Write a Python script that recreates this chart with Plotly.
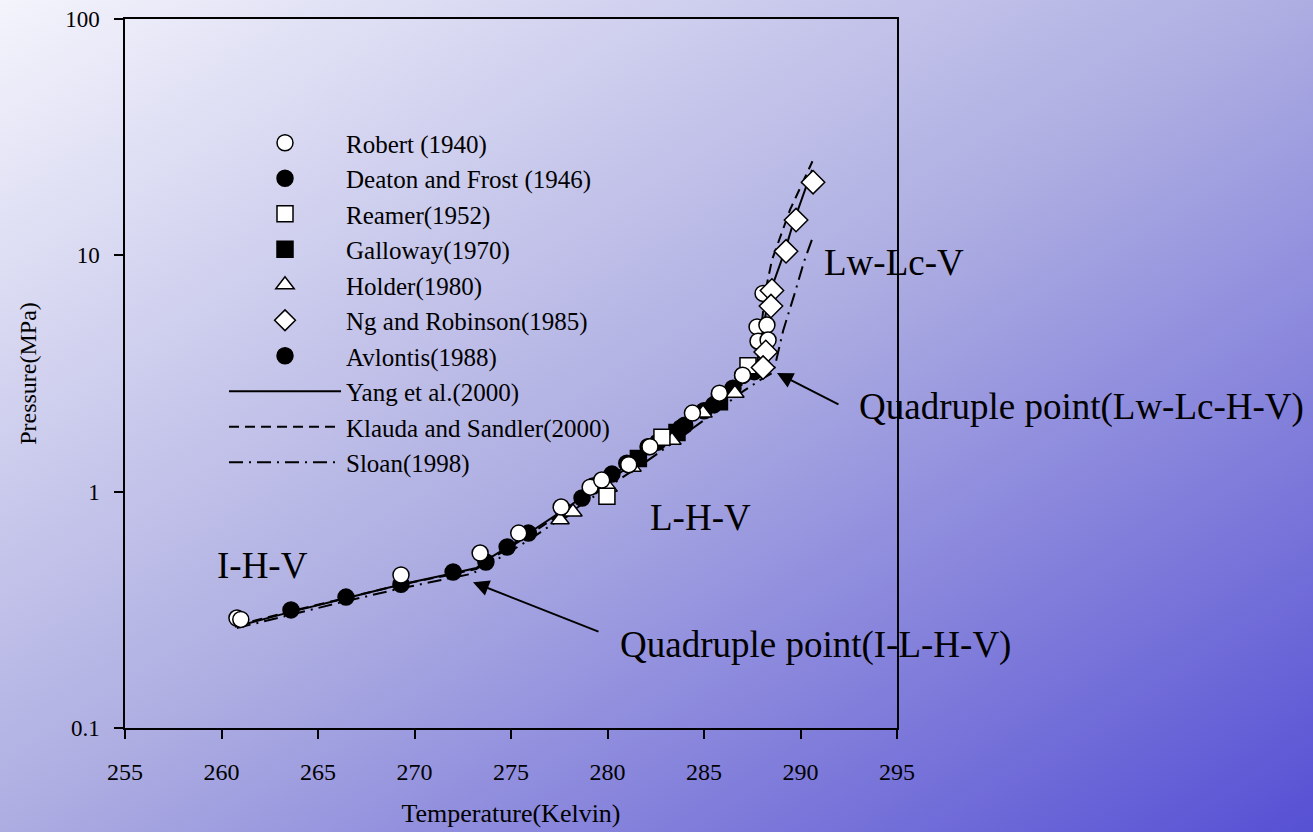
import base64
import plotly.graph_objects as go

# ---------------- data ----------------
robert_T = [260.8, 261.0, 269.3, 273.4, 275.4, 277.6, 279.1, 279.7, 281.1, 282.2, 284.4, 285.8, 287.0,
            288.06, 287.75, 288.26, 287.8, 288.32]
robert_P = [0.292, 0.288, 0.444, 0.550, 0.668, 0.861, 1.045, 1.12, 1.30, 1.55, 2.15, 2.61, 3.11,
            6.9, 4.98, 5.07, 4.33, 4.38]

deaton_T = [263.6, 266.45, 269.3, 272.0, 273.7, 274.8, 275.9, 277.7, 279.25, 281.0, 282.1, 284.0, 285.5, 287.0]
deaton_P = [0.316, 0.358, 0.406, 0.457, 0.504, 0.583, 0.668, 0.836, 1.056, 1.32, 1.55, 1.91, 2.33, 3.11]

reamer_T = [279.97, 282.82, 287.28]
reamer_P = [0.957, 1.70, 3.41]

galloway_T = [281.6, 283.6, 285.8]
galloway_P = [1.38, 1.78, 2.40]

holder_T = [277.54, 278.21, 280.03, 281.27, 283.34, 284.95, 286.6]
holder_P = [0.76, 0.82, 1.045, 1.27, 1.65, 2.15, 2.61]

ng_T = [290.65, 289.77, 289.25, 288.52, 288.47, 288.2, 288.06]
ng_P = [20.4, 14.1, 10.4, 7.1, 6.1, 3.9, 3.35]

avlontis_T = [278.68, 280.23, 282.6, 283.8, 285.0, 286.5, 287.6]
avlontis_P = [0.94, 1.187, 1.62, 1.86, 2.20, 2.74, 3.22]

yang_T = [260.7, 263.6, 266.5, 269.3, 272.0, 273.2, 274.0, 275.0, 276.0, 277.0, 278.0, 279.0, 280.0,
          281.0, 282.0, 283.0, 284.0, 285.0, 286.0, 287.0, 287.7, 287.95, 288.4, 289.2, 289.6, 290.1, 290.6]
yang_P = [0.268, 0.31, 0.355, 0.405, 0.452, 0.475, 0.53, 0.595, 0.675, 0.765, 0.865, 0.99, 1.13,
          1.30, 1.48, 1.67, 1.90, 2.17, 2.50, 2.92, 3.3, 4.4, 6.9, 10.5, 13.5, 17.5, 23.0]

klauda_T = [260.8, 263.6, 266.5, 269.3, 272.0, 273.2, 274.0, 275.0, 276.0, 277.0, 278.0, 279.0, 280.0,
            281.0, 282.0, 283.0, 284.0, 285.0, 286.0, 287.0, 287.8, 288.0, 288.16, 288.52, 289.46, 290.62]
klauda_P = [0.272, 0.312, 0.356, 0.404, 0.448, 0.47, 0.52, 0.585, 0.66, 0.75, 0.85, 0.97, 1.10,
            1.26, 1.44, 1.64, 1.87, 2.14, 2.46, 2.85, 3.3, 5.2, 6.9, 9.55, 15.6, 25.0]

sloan_T = [260.8, 263.6, 266.5, 269.3, 272.0, 273.0, 274.0, 275.0, 276.0, 277.0, 278.0, 279.0, 280.0,
           281.0, 282.0, 283.0, 284.0, 285.0, 286.0, 287.0, 288.0, 288.6, 288.75, 289.1, 289.7, 290.2, 290.65]
sloan_P = [0.265, 0.302, 0.345, 0.39, 0.432, 0.45, 0.50, 0.56, 0.63, 0.715, 0.81, 0.92, 1.04,
           1.18, 1.34, 1.53, 1.75, 2.0, 2.3, 2.65, 3.0, 3.2, 3.6, 4.8, 6.9, 9.5, 12.0]

x_ticks = [255, 260, 265, 270, 275, 280, 285, 290, 295]
y_ticks = [0.1, 1, 10, 100]
y_ticktext = ["0.1", "1", "10", "100"]

# ---------------- styling ----------------
FONT = "Liberation Serif, Times New Roman, serif"
W, H = 1313, 832
ML, MR, MT, MB = 125, 416, 19, 104
PW, PH = W - ML - MR, H - MT - MB

fig = go.Figure()

lines = [
    ("Yang et al.(2000)", yang_T, yang_P, "solid", 8),
    ("Klauda and Sandler(2000)", klauda_T, klauda_P, "10px,6px", 9),
    ("Sloan(1998)", sloan_T, sloan_P, "14px,6px,2px,6px", 10),
]
for name, xs, ys, dash, rank in lines:
    fig.add_trace(go.Scatter(x=xs, y=ys, mode="lines", name=name, legendrank=rank,
                             line=dict(color="black", width=2, dash=dash)))

markers = [
    ("Deaton and Frost (1946)", deaton_T, deaton_P, "circle", "black", 2),
    ("Avlontis(1988)", avlontis_T, avlontis_P, "circle", "black", 7),
    ("Galloway(1970)", galloway_T, galloway_P, "square", "black", 4),
    ("Holder(1980)", holder_T, holder_P, "triangle-up", "white", 5),
    ("Reamer(1952)", reamer_T, reamer_P, "square", "white", 3),
    ("Robert (1940)", robert_T, robert_P, "circle", "white", 1),
    ("Ng and Robinson(1985)", ng_T, ng_P, "diamond", "white", 6),
]
for name, xs, ys, sym, col, rank in markers:
    size = 16 if sym != "diamond" else 18
    fig.add_trace(go.Scatter(x=xs, y=ys, mode="markers", name=name, legendrank=rank,
                             marker=dict(symbol=sym, size=size, color=col,
                                         line=dict(color="black", width=1.5))))

# gradient background
svg = (f'<svg xmlns="http://www.w3.org/2000/svg" width="{W}" height="{H}" preserveAspectRatio="none">'
       '<defs><linearGradient id="g" x1="0" y1="0" x2="1" y2="1">'
       '<stop offset="0" stop-color="#f4f4fc"/>'
       '<stop offset="0.5" stop-color="#adade2"/>'
       '<stop offset="1" stop-color="#5650d4"/>'
       '</linearGradient></defs>'
       f'<rect width="{W}" height="{H}" fill="url(#g)"/></svg>')
src = "data:image/svg+xml;base64," + base64.b64encode(svg.encode()).decode()
fig.add_layout_image(dict(source=src, xref="paper", yref="paper",
                          x=-ML / PW, y=1 + MT / PH, sizex=W / PW, sizey=H / PH,
                          xanchor="left", yanchor="top", sizing="stretch", layer="below"))

def px(xp):
    return (xp - ML) / PW

def py(yp):
    return (H - MB - yp) / PH

big = dict(family=FONT, size=37, color="black")
ann = [
    dict(text="I-H-V", x=px(262), y=py(565)),
    dict(text="L-H-V", x=px(700), y=py(517)),
    dict(text="Lw-Lc-V", x=px(894), y=py(262)),
    dict(text="Quadruple point(Lw-Lc-H-V)", x=px(1081), y=py(407)),
    dict(text="Quadruple point(I-L-H-V)", x=px(815), y=py(645)),
]
for a in ann:
    fig.add_annotation(xref="paper", yref="paper", showarrow=False, font=big,
                       xanchor="center", yanchor="middle", **a)

# arrows
fig.add_annotation(x=288.78, y=0.502, xref="x", yref="y", text="", showarrow=True,
                   ax=63, ay=32, arrowhead=2, arrowsize=1.6, arrowwidth=2, arrowcolor="black")
fig.add_annotation(x=273.03, y=-0.383, xref="x", yref="y", text="", showarrow=True,
                   ax=127, ay=50, arrowhead=2, arrowsize=1.6, arrowwidth=2, arrowcolor="black")

fig.update_layout(
    width=W, height=H,
    margin=dict(l=ML, r=MR, t=MT, b=MB, autoexpand=False),
    paper_bgcolor="#b0b0e2",
    plot_bgcolor="rgba(0,0,0,0)",
    font=dict(family=FONT, color="black"),
    showlegend=True,
    legend=dict(x=px(224), y=py(120), xanchor="left", yanchor="top",
                bgcolor="rgba(0,0,0,0)", borderwidth=0,
                font=dict(family=FONT, size=25, color="black"),
                itemwidth=112, traceorder="normal"),
)
fig.update_xaxes(range=[255, 295], tickvals=x_ticks, ticks="outside", ticklen=9, tickwidth=1.5,
                 tickcolor="black", showline=True, linecolor="black", linewidth=1.5, mirror=True,
                 showgrid=False, zeroline=False, tickfont=dict(family=FONT, size=24),
                 ticklabelstandoff=12, automargin=False,
                 title=dict(text="Temperature(Kelvin)", font=dict(family=FONT, size=26), standoff=20))
fig.update_yaxes(type="log", range=[-1, 2], tickvals=y_ticks, ticktext=y_ticktext, ticks="outside",
                 ticklen=9, tickwidth=1.5, tickcolor="black", showline=True, linecolor="black",
                 linewidth=1.5, mirror=True, showgrid=False, zeroline=False, automargin=False,
                 tickfont=dict(family=FONT, size=23), ticklabelstandoff=10,
                 title=dict(text="Pressure(MPa)", font=dict(family=FONT, size=24), standoff=22))

fig.write_html("out.html", config={"displayModeBar": False},
               post_script="document.body.style.margin='0';document.body.style.overflow='hidden';")
